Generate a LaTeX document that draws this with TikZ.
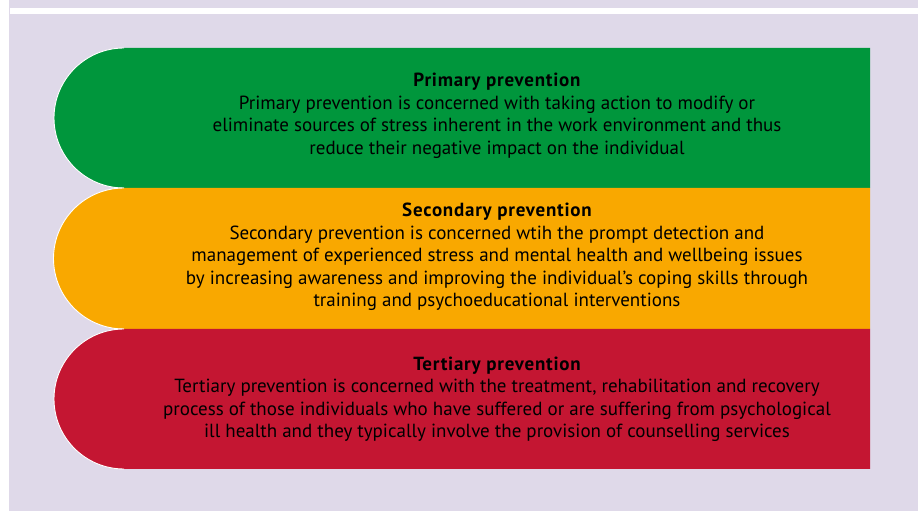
\documentclass[tikz,border=0pt]{standalone}
\usepackage{fontspec}
\setmainfont{PT Sans}
\definecolor{lavender}{RGB}{223,217,233}
\definecolor{primgreen}{RGB}{0,150,60}
\definecolor{secorange}{RGB}{249,168,0}
\definecolor{terred}{RGB}{196,22,50}
\newcommand{\bandhead}[1]{{\bfseries\addfontfeature{LetterSpace=4}#1}}
\tikzset{
  bandtext/.style={align=center,font=\fontsize{19}{22.5}\selectfont,text=black,inner sep=0pt},
  capline/.style={white,line width=0.9pt}
}
\begin{document}
\begin{tikzpicture}[x=1pt,y=1pt]
  % page and panel
  \fill [white] (0,0) rectangle (918,511);
  \fill [lavender] (9,0) rectangle (918,511);
  \fill [white] (10,496.5) rectangle (918,503);
  % primary band
  \fill [primgreen] (870,463) -- (124,463) arc (90:270:70) -- (870,323) -- cycle;
  \draw [capline] (124,463) arc (90:270:70);
  \node [bandtext] (primary) at (497,395) {\bandhead{Primary prevention}\\
    Primary prevention is concerned with taking action to modify or\\
    eliminate sources of stress inherent in the work environment and thus\\
    reduce their negative impact on the individual};
  % secondary band
  \fill [secorange] (870,323) -- (124,323) arc (90:270:70.5) -- (870,182) -- cycle;
  \draw [capline] (124,323) arc (90:270:70.5);
  \node [bandtext] (secondary) at (497,254) {\bandhead{Secondary prevention}\\
    Secondary prevention is concerned wtih the prompt detection and\\
    management of experienced stress and mental health and wellbeing issues\\
    by increasing awareness and improving the individual’s coping skills through\\
    training and psychoeducational interventions};
  % tertiary band
  \fill [terred] (870,182) -- (124,182) arc (90:270:70) -- (870,42) -- cycle;
  \draw [capline] (124,182) arc (90:270:70);
  \node [bandtext] (tertiary) at (497,111.5) {\bandhead{Tertiary prevention}\\
    Tertiary prevention is concerned with the treatment, rehabilitation and recovery\\
    process of those individuals who have suffered or are suffering from psychological\\
    ill health and they typically involve the provision of counselling services};
\end{tikzpicture}
\end{document}
